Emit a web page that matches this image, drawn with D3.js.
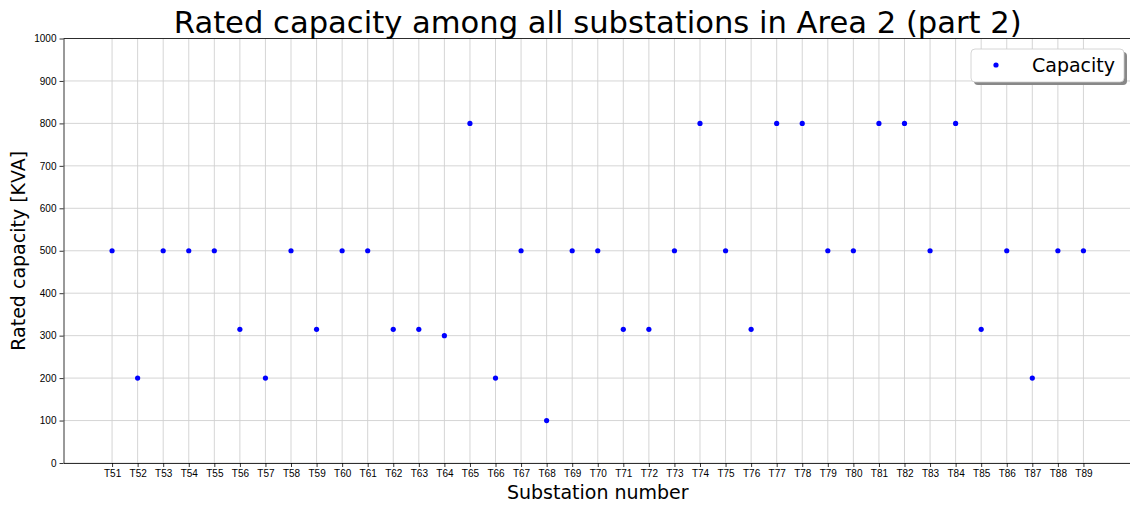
<!DOCTYPE html>
<html>
<head>
<meta charset="utf-8">
<script src="https://cdn.jsdelivr.net/npm/d3@7"></script>
<style>
  body { margin: 0; background: #fff; }
  svg { font-family: "DejaVu Sans", sans-serif; }
</style>
</head>
<body>
<div id="chart"></div>
<script>
const substations = ['T51', 'T52', 'T53', 'T54', 'T55', 'T56', 'T57', 'T58', 'T59', 'T60',
  'T61', 'T62', 'T63', 'T64', 'T65', 'T66', 'T67', 'T68', 'T69', 'T70',
  'T71', 'T72', 'T73', 'T74', 'T75', 'T76', 'T77', 'T78', 'T79', 'T80',
  'T81', 'T82', 'T83', 'T84', 'T85', 'T86', 'T87', 'T88', 'T89'];
const capacity = [500, 200, 500, 500, 500, 315, 200, 500, 315, 500,
  500, 315, 315, 300, 800, 200, 500, 100, 500, 500,
  315, 315, 500, 800, 500, 315, 800, 800, 500, 500,
  800, 800, 500, 800, 315, 500, 200, 500, 500];
const yTicks = [0, 100, 200, 300, 400, 500, 600, 700, 800, 900, 1000];

const width = 1130, height = 506;
const margin = { top: 38.5, right: -2, bottom: 43, left: 63.5 };
const w = width - margin.left - margin.right;
const h = height - margin.top - margin.bottom;

const svg = d3.select('#chart').append('svg')
  .attr('width', width)
  .attr('height', height);

const g = svg.append('g')
  .attr('transform', 'translate(' + margin.left + ',' + margin.top + ')');

// x is an index scale with matplotlib-like 5% margins
const n = substations.length;
const pad = (n - 1) * 0.05;
const x = d3.scaleLinear().domain([-pad, n - 1 + pad]).range([0, w]);
const y = d3.scaleLinear().domain([0, 1000]).range([h, 0]);

// grid
g.append('g').selectAll('line').data(substations).enter().append('line')
  .attr('x1', (d, i) => x(i)).attr('x2', (d, i) => x(i))
  .attr('y1', 0).attr('y2', h)
  .attr('stroke', '#d0d0d0').attr('stroke-width', 0.9);
g.append('g').selectAll('line').data(yTicks).enter().append('line')
  .attr('x1', 0).attr('x2', w)
  .attr('y1', d => y(d)).attr('y2', d => y(d))
  .attr('stroke', '#d0d0d0').attr('stroke-width', 0.9);

// axes
const xAxis = g.append('g')
  .attr('transform', 'translate(0,' + h + ')')
  .call(d3.axisBottom(x).tickValues(d3.range(n)).tickFormat(i => substations[i]).tickSize(4).tickPadding(3).tickSizeOuter(0));
const yAxis = g.append('g')
  .call(d3.axisLeft(y).tickValues(yTicks).tickFormat(d3.format('d')).tickSize(4).tickPadding(3).tickSizeOuter(0));
[xAxis, yAxis].forEach(a => {
  a.selectAll('text').style('font-size', '10px').attr('fill', '#000');
  a.selectAll('line').attr('stroke', '#000').attr('stroke-width', 0.8);
  a.select('.domain').attr('stroke', '#000').attr('stroke-width', 0.8);
});

// box
g.append('line').attr('x1', 0).attr('x2', w).attr('y1', 0).attr('y2', 0)
  .attr('stroke', '#000').attr('stroke-width', 0.8);

// points
g.append('g').selectAll('circle').data(capacity).enter().append('circle')
  .attr('cx', (d, i) => x(i))
  .attr('cy', d => y(d))
  .attr('r', 2.6)
  .attr('fill', '#0000ff');

// title and labels
svg.append('text')
  .attr('x', margin.left + x((n - 1) / 2)).attr('y', 33)
  .attr('text-anchor', 'middle')
  .style('font-size', '30.6px')
  .text('Rated capacity among all substations in Area 2 (part 2)');
svg.append('text')
  .attr('x', margin.left + x((n - 1) / 2)).attr('y', 499)
  .attr('text-anchor', 'middle')
  .style('font-size', '19px')
  .text('Substation number');
svg.append('text')
  .attr('transform', 'translate(25,' + (margin.top + h / 2) + ') rotate(-90)')
  .attr('text-anchor', 'middle')
  .style('font-size', '19px')
  .text('Rated capacity [KVA]');

// legend
const lg = svg.append('g').attr('transform', 'translate(971,49)');
lg.append('rect').attr('x', 3).attr('y', 3).attr('width', 153).attr('height', 33)
  .attr('rx', 4).attr('fill', '#888');
lg.append('rect').attr('x', 0).attr('y', 0).attr('width', 153).attr('height', 33)
  .attr('rx', 4).attr('fill', '#fff').attr('stroke', '#ccc').attr('stroke-width', 0.8);
lg.append('circle').attr('cx', 25).attr('cy', 16).attr('r', 2.6).attr('fill', '#0000ff');
lg.append('text').attr('x', 61).attr('y', 23).style('font-size', '19px').text('Capacity');
</script>
</body>
</html>
